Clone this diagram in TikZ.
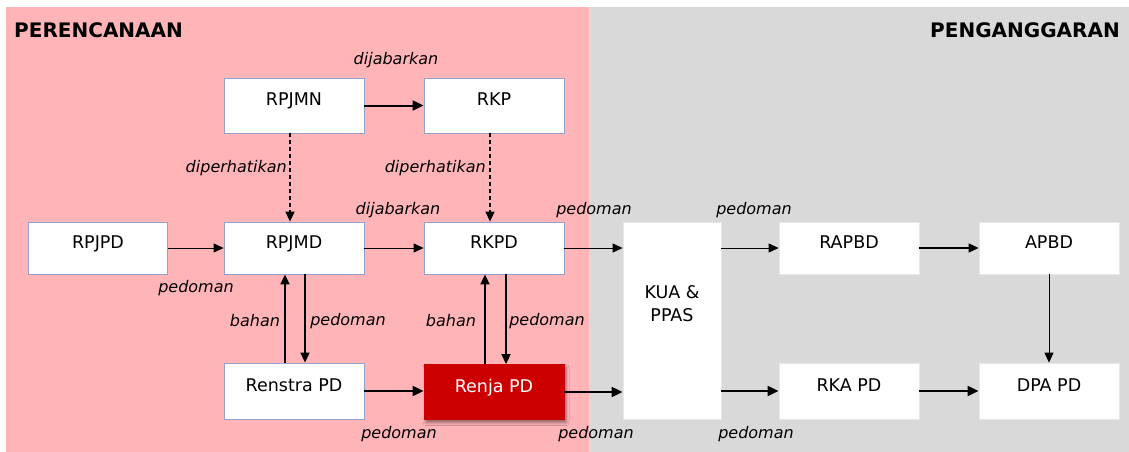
\documentclass[tikz,border=0pt]{standalone}
\usepackage{fontspec}
\setmainfont{DejaVu Sans}
\usetikzlibrary{arrows.meta,shadows.blur,calc}
\definecolor{pinkbg}{RGB}{255,180,184}
\definecolor{graybg}{RGB}{217,217,217}
\definecolor{renjared}{RGB}{204,0,0}
\definecolor{boxline}{RGB}{150,160,205}
\definecolor{boxlinegray}{RGB}{232,232,232}
\begin{document}
\begin{tikzpicture}[x=1pt,y=-1pt,
  box/.style={draw=boxline, line width=0.8pt, fill=white, minimum width=140pt, minimum height=52pt,
    inner sep=0pt, text height=8pt, text depth=8pt, font=\fontsize{17.5}{20}\selectfont},
  gbox/.style={box, draw=boxlinegray},
  redbox/.style={box, draw=renjared, fill=renjared, text=white,
    blur shadow={shadow xshift=2pt, shadow yshift=-3pt, shadow blur radius=3pt, shadow opacity=45}},
  lbl/.style={font=\fontsize{16}{19}\selectfont\itshape, inner sep=0pt},
  hdr/.style={font=\fontsize{20}{23}\selectfont\bfseries, inner sep=0pt},
  thinarr/.style={line width=1pt, -{Triangle[length=10pt,width=9pt]}},
  midarr/.style={line width=1.5pt, -{Triangle[length=10pt,width=9pt]}},
  thickarr/.style={line width=2pt, -{Triangle[length=11pt,width=10pt]}},
  dasharr/.style={line width=1.3pt, dash pattern=on 4pt off 3pt, -{Triangle[length=10pt,width=9pt]}},
]
\useasboundingbox (0,0) rectangle (1129,452);
\fill[white] (0,0) rectangle (1129,452);
\fill[pinkbg] (6,7) rectangle (589,452);
\fill[graybg] (589,7) rectangle (1129,452);

\node[hdr, anchor=west] (hplan) at (14,30) {PERENCANAAN};
\node[hdr, anchor=east] (hbudget) at (1120,30) {PENGANGGARAN};

% boxes
\node[box, minimum height=55pt] (rpjmn) at (294,105.5) {RPJMN};
\node[box, minimum height=55pt] (rkp) at (494,105.5) {RKP};
\node[box, minimum width=139pt] (rpjpd) at (98,248) {RPJPD};
\node[box] (rpjmd) at (294,248) {RPJMD};
\node[box] (rkpd) at (494,248) {RKPD};
\node[gbox, minimum width=98pt, minimum height=197pt] (kua) at (672,320.5) {};
\node[inner sep=0pt, align=center, font=\fontsize{17.5}{23}\selectfont] (kuatext) at (672,304) {KUA \&\\PPAS};
\node[gbox] (rapbd) at (849,248) {RAPBD};
\node[gbox] (apbd) at (1049,248) {APBD};
\node[box, minimum height=56pt] (renstra) at (294,391) {Renstra PD};
\node[redbox, minimum height=55pt] (renja) at (494,392) {Renja PD};
\node[gbox, minimum height=56pt] (rka) at (849,391) {RKA PD};
\node[gbox, minimum height=56pt] (dpa) at (1049,391) {DPA PD};

% connectors
\draw[thickarr] (rpjmn.east) -- (rkp.west);
\draw[dasharr] ([xshift=-4pt]rpjmn.south) -- ([xshift=-4pt]rpjmd.north);
\draw[dasharr] ([xshift=-4pt]rkp.south) -- ([xshift=-4pt]rkpd.north);
\draw[thinarr] (rpjpd.east) -- (rpjmd.west);
\draw[thinarr] (rpjmd.east) -- (rkpd.west);
\draw[thinarr] (rkpd.east) -- (rkpd.east -| kua.west);
\draw[thinarr] (kua.east |- rapbd.west) -- (rapbd.west);
\draw[midarr] (rapbd.east) -- (apbd.west);
\draw[thinarr] (apbd.south) -- (dpa.north);
\draw[midarr] ([xshift=-9pt]renstra.north) -- ([xshift=-9pt]rpjmd.south);
\draw[midarr] ([xshift=11pt]rpjmd.south) -- ([xshift=11pt]renstra.north);
\draw[midarr] ([xshift=-9pt]renja.north) -- ([xshift=-9pt]rkpd.south);
\draw[midarr] ([xshift=12pt]rkpd.south) -- ([xshift=12pt]renja.north);
\draw[thickarr] (renstra.east) -- (renstra.east -| renja.west);
\draw[thickarr] (renja.east) -- (renja.east -| kua.west);
\draw[thickarr] (kua.east |- rka.west) -- (rka.west);
\draw[thickarr] (rka.east) -- (dpa.west);

% labels
\node[lbl] (l1) at (396,60) {dijabarkan};
\node[lbl, anchor=east] (l2) at (287,168) {diperhatikan};
\node[lbl, anchor=east] (l3) at (486,168) {diperhatikan};
\node[lbl] (l4) at (398,210) {dijabarkan};
\node[lbl] (l5) at (594,210) {pedoman};
\node[lbl] (l6) at (754,210) {pedoman};
\node[lbl] (l7) at (196,288) {pedoman};
\node[lbl] (l8) at (255,321) {bahan};
\node[lbl] (l9) at (348,321) {pedoman};
\node[lbl] (l10) at (451,321) {bahan};
\node[lbl] (l11) at (547,321) {pedoman};
\node[lbl] (l12) at (399,434) {pedoman};
\node[lbl] (l13) at (596,434) {pedoman};
\node[lbl] (l14) at (756,434) {pedoman};
\end{tikzpicture}
\end{document}
